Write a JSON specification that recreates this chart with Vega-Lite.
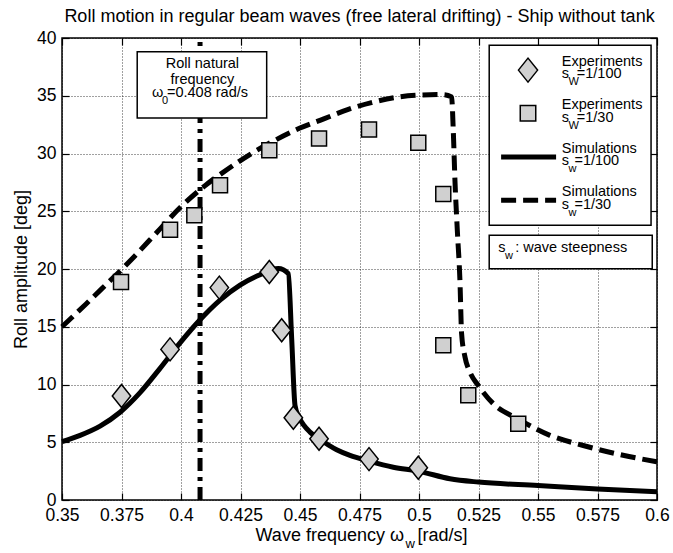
{
  "$schema": "https://vega.github.io/schema/vega-lite/v6.json",
  "width": 595,
  "height": 462,
  "autosize": "none",
  "padding": {"left": 62, "top": 38, "right": 16, "bottom": 53},
  "background": "white",
  "title": {"text": "Roll motion in regular beam waves (free lateral drifting) - Ship without tank", "fontSize": 18, "font": "Liberation Sans", "fontWeight": "normal", "color": "#000", "offset": 3, "anchor": "middle"},
  "config": {"view": {"stroke": "#000", "strokeWidth": 1.5}, "font": "Liberation Sans"},
  "resolve": {"axis": {"x": "independent", "y": "independent"}},
  "layer": [
    {
      "data": {"values": [
        {"x":0.35,"y":5.05},{"x":0.3576,"y":5.6},{"x":0.366,"y":6.4},{"x":0.3744,"y":7.6},{"x":0.3828,"y":9.3},{"x":0.3912,"y":11.4},{"x":0.3996,"y":13.6},{"x":0.408,"y":15.6},{"x":0.4164,"y":17.3},{"x":0.4248,"y":18.6},{"x":0.4332,"y":19.5},{"x":0.4409,"y":20.05},{"x":0.4451,"y":19.6},{"x":0.4465,"y":14.0},{"x":0.4479,"y":8.2},{"x":0.4495,"y":7.2},{"x":0.4515,"y":6.5},{"x":0.4542,"y":5.88},{"x":0.458,"y":5.3},{"x":0.4654,"y":4.35},{"x":0.471,"y":3.86},{"x":0.479,"y":3.37},{"x":0.4892,"y":2.84},{"x":0.4997,"y":2.5},{"x":0.513,"y":1.84},{"x":0.525,"y":1.55},{"x":0.55,"y":1.25},{"x":0.575,"y":0.95},{"x":0.6,"y":0.72}
      ]},
      "mark": {"type": "line", "color": "#000", "strokeWidth": 5, "interpolate": "monotone"},
      "encoding": {
        "x": {"field": "x", "type": "quantitative", "scale": {"domain": [0.35, 0.6], "nice": false, "zero": false},
          "axis": {"orient": "bottom", "values": [0.35,0.375,0.4,0.425,0.45,0.475,0.5,0.525,0.55,0.575,0.6], "labelExpr": "format(datum.value, '.3~f')", "grid": true, "gridColor": "#000", "gridDash": [1,2], "gridWidth": 1, "gridOpacity": 0.75, "domain": false, "ticks": true, "tickSize": -7, "tickColor": "#000", "tickWidth": 1.2, "labelFontSize": 17.5, "labelColor": "#000", "labelFont": "Liberation Sans", "labelPadding": 13, "labelFlush": false, "labelOverlap": false, "title": null}},
        "y": {"field": "y", "type": "quantitative", "scale": {"domain": [0, 40], "nice": false},
          "axis": {"orient": "left", "values": [0,5,10,15,20,25,30,35,40], "grid": true, "gridColor": "#000", "gridDash": [1,2], "gridWidth": 1, "gridOpacity": 0.75, "domain": false, "ticks": true, "tickSize": -7, "tickColor": "#000", "tickWidth": 1.2, "labelFontSize": 17.5, "labelColor": "#000", "labelFont": "Liberation Sans", "labelPadding": 13, "labelFlush": false, "labelOverlap": false, "title": "Roll amplitude [deg]", "titleFontSize": 18, "titleFontWeight": "normal", "titleColor": "#000", "titleFont": "Liberation Sans", "titlePadding": 6}}
      }
    },
    {
      "data": {"values": [
        {"x":0.35,"y":15.0},{"x":0.36,"y":16.95},{"x":0.37,"y":18.95},{"x":0.375,"y":19.95},{"x":0.38,"y":21.0},{"x":0.39,"y":23.2},{"x":0.4,"y":25.4},{"x":0.41,"y":27.2},{"x":0.42,"y":28.7},{"x":0.43,"y":30.05},{"x":0.44,"y":31.2},{"x":0.45,"y":32.2},{"x":0.46,"y":33.0},{"x":0.47,"y":33.8},{"x":0.48,"y":34.4},{"x":0.49,"y":34.85},{"x":0.5,"y":35.05},{"x":0.51,"y":35.1},{"x":0.5137,"y":34.9},{"x":0.5144,"y":32.0},{"x":0.5151,"y":27.7},{"x":0.5161,"y":23.35},{"x":0.5172,"y":19.0},{"x":0.5179,"y":14.4},{"x":0.5193,"y":12.4},{"x":0.5214,"y":11.07},{"x":0.5249,"y":9.92},{"x":0.5312,"y":8.34},{"x":0.5417,"y":7.0},{"x":0.555,"y":5.6},{"x":0.569,"y":4.72},{"x":0.583,"y":4.0},{"x":0.6,"y":3.3}
      ]},
      "mark": {"type": "line", "color": "#000", "strokeWidth": 5, "strokeDash": [15, 7], "interpolate": "monotone"},
      "encoding": {
        "x": {"field": "x", "type": "quantitative", "scale": {"domain": [0.35, 0.6], "nice": false, "zero": false},
          "axis": {"orient": "top", "values": [0.35,0.375,0.4,0.425,0.45,0.475,0.5,0.525,0.55,0.575,0.6], "grid": false, "domain": false, "labels": false, "ticks": true, "tickSize": -7, "tickColor": "#000", "tickWidth": 1.2, "title": null}},
        "y": {"field": "y", "type": "quantitative", "scale": {"domain": [0, 40], "nice": false},
          "axis": {"orient": "right", "values": [0,5,10,15,20,25,30,35,40], "grid": false, "domain": false, "labels": false, "ticks": true, "tickSize": -7, "tickColor": "#000", "tickWidth": 1.2, "title": null}}
      }
    },
    {
      "data": {"values": [{"x": 0.408, "y": 0, "y2": 40}]},
      "mark": {"type": "rule", "color": "#000", "strokeWidth": 5, "strokeDash": [13, 6, 4, 6]},
      "encoding": {
        "x": {"field": "x", "type": "quantitative", "scale": {"domain": [0.35, 0.6], "nice": false, "zero": false}, "axis": null},
        "y": {"field": "y", "type": "quantitative", "scale": {"domain": [0, 40], "nice": false}, "axis": null},
        "y2": {"field": "y2"}
      }
    },
    {
      "data": {"values": [
        {"x":0.375,"y":9.0},{"x":0.3954,"y":13.04},{"x":0.4161,"y":18.39},{"x":0.4371,"y":19.74},{"x":0.4423,"y":14.69},{"x":0.4472,"y":7.12},{"x":0.458,"y":5.3},{"x":0.479,"y":3.54},{"x":0.4997,"y":2.79}
      ]},
      "mark": {"type": "point", "shape": "M-0.8,0L0,-1L0.8,0L0,1Z", "size": 530, "filled": true, "fill": "#d0d0d0", "stroke": "#000", "strokeWidth": 1.5, "opacity": 1},
      "encoding": {
        "x": {"field": "x", "type": "quantitative", "scale": {"domain": [0.35, 0.6], "nice": false, "zero": false}, "axis": null},
        "y": {"field": "y", "type": "quantitative", "scale": {"domain": [0, 40], "nice": false}, "axis": null}
      }
    },
    {
      "data": {"values": [
        {"x":0.3748,"y":18.87},{"x":0.3954,"y":23.4},{"x":0.4056,"y":24.65},{"x":0.4164,"y":27.25},{"x":0.4371,"y":30.29},{"x":0.458,"y":31.3},{"x":0.479,"y":32.08},{"x":0.4997,"y":30.92},{"x":0.5102,"y":26.5},{"x":0.5102,"y":13.4},{"x":0.5207,"y":9.06},{"x":0.5417,"y":6.6}
      ]},
      "mark": {"type": "point", "shape": "square", "size": 225, "filled": true, "fill": "#d0d0d0", "stroke": "#000", "strokeWidth": 1.5, "opacity": 1},
      "encoding": {
        "x": {"field": "x", "type": "quantitative", "scale": {"domain": [0.35, 0.6], "nice": false, "zero": false}, "axis": null},
        "y": {"field": "y", "type": "quantitative", "scale": {"domain": [0, 40], "nice": false}, "axis": null}
      }
    },
    {
      "data": {"values": [
        {"x":0.5295,"x2":0.5975,"y":23.79,"y2":39.38},
        {"x":0.5295,"x2":0.598,"y":20.03,"y2":22.92},
        {"x":0.3816,"x2":0.436,"y":33.08,"y2":38.8}
      ]},
      "mark": {"type": "rect", "fill": "#fff", "stroke": "#000", "strokeWidth": 1.5},
      "encoding": {
        "x": {"field": "x", "type": "quantitative", "scale": {"domain": [0.35, 0.6], "nice": false, "zero": false}, "axis": null},
        "x2": {"field": "x2"},
        "y": {"field": "y", "type": "quantitative", "scale": {"domain": [0, 40], "nice": false}, "axis": null},
        "y2": {"field": "y2"}
      }
    },
    {
      "data": {"values": [{"x":0.5458,"y":37.22}]},
      "mark": {"type": "point", "shape": "M-0.8,0L0,-1L0.8,0L0,1Z", "size": 576, "filled": true, "fill": "#d0d0d0", "stroke": "#000", "strokeWidth": 1.5, "opacity": 1},
      "encoding": {
        "x": {"field": "x", "type": "quantitative", "scale": {"domain": [0.35, 0.6], "nice": false, "zero": false}, "axis": null},
        "y": {"field": "y", "type": "quantitative", "scale": {"domain": [0, 40], "nice": false}, "axis": null}
      }
    },
    {
      "data": {"values": [{"x":0.5458,"y":33.49}]},
      "mark": {"type": "point", "shape": "square", "size": 240, "filled": true, "fill": "#d0d0d0", "stroke": "#000", "strokeWidth": 1.5, "opacity": 1},
      "encoding": {
        "x": {"field": "x", "type": "quantitative", "scale": {"domain": [0.35, 0.6], "nice": false, "zero": false}, "axis": null},
        "y": {"field": "y", "type": "quantitative", "scale": {"domain": [0, 40], "nice": false}, "axis": null}
      }
    },
    {
      "data": {"values": [{"x":0.5345,"x2":0.5576,"y":29.7}]},
      "mark": {"type": "rule", "color": "#000", "strokeWidth": 5},
      "encoding": {
        "x": {"field": "x", "type": "quantitative", "scale": {"domain": [0.35, 0.6], "nice": false, "zero": false}, "axis": null},
        "x2": {"field": "x2"},
        "y": {"field": "y", "type": "quantitative", "scale": {"domain": [0, 40], "nice": false}, "axis": null}
      }
    },
    {
      "data": {"values": [{"x":0.5345,"x2":0.5576,"y":25.95}]},
      "mark": {"type": "rule", "color": "#000", "strokeWidth": 5, "strokeDash": [15, 7]},
      "encoding": {
        "x": {"field": "x", "type": "quantitative", "scale": {"domain": [0.35, 0.6], "nice": false, "zero": false}, "axis": null},
        "x2": {"field": "x2"},
        "y": {"field": "y", "type": "quantitative", "scale": {"domain": [0, 40], "nice": false}, "axis": null}
      }
    },
    {
      "data": {"values": [
        {"x":0.56,"y":37.56,"t":"Experiments"},
        {"x":0.56,"y":36.5,"t":"s"},
        {"x":0.5663,"y":36.5,"t":"=1/100"},
        {"x":0.56,"y":33.81,"t":"Experiments"},
        {"x":0.56,"y":32.74,"t":"s"},
        {"x":0.5663,"y":32.74,"t":"=1/30"},
        {"x":0.56,"y":30.05,"t":"Simulations"},
        {"x":0.56,"y":28.99,"t":"s"},
        {"x":0.5653,"y":28.99,"t":"=1/100"},
        {"x":0.56,"y":26.3,"t":"Simulations"},
        {"x":0.56,"y":25.23,"t":"s"},
        {"x":0.5653,"y":25.23,"t":"=1/30"},
        {"x":0.5333,"y":21.47,"t":"s"},
        {"x":0.5404,"y":21.47,"t":": wave steepness"},
        {"x":0.3878,"y":34.9,"t":"ω"},
        {"x":0.3941,"y":34.9,"t":"=0.408 rad/s"}
      ]},
      "mark": {"type": "text", "align": "left", "baseline": "alphabetic", "fontSize": 14.5, "font": "Liberation Sans", "color": "#000"},
      "encoding": {
        "x": {"field": "x", "type": "quantitative", "scale": {"domain": [0.35, 0.6], "nice": false, "zero": false}, "axis": null},
        "y": {"field": "y", "type": "quantitative", "scale": {"domain": [0, 40], "nice": false}, "axis": null},
        "text": {"field": "t"}
      }
    },
    {
      "data": {"values": [
        {"x":0.5628,"y":36.5,"t":"W"},
        {"x":0.5628,"y":32.74,"t":"W"},
        {"x":0.5628,"y":28.99,"t":"w"},
        {"x":0.5628,"y":25.23,"t":"w"},
        {"x":0.5361,"y":21.47,"t":"w"},
        {"x":0.392,"y":34.9,"t":"0"}
      ]},
      "mark": {"type": "text", "align": "left", "baseline": "alphabetic", "fontSize": 11, "font": "Liberation Sans", "color": "#000", "dy": 7},
      "encoding": {
        "x": {"field": "x", "type": "quantitative", "scale": {"domain": [0.35, 0.6], "nice": false, "zero": false}, "axis": null},
        "y": {"field": "y", "type": "quantitative", "scale": {"domain": [0, 40], "nice": false}, "axis": null},
        "text": {"field": "t"}
      }
    },
    {
      "data": {"values": [
        {"x":0.409,"y":37.42,"t":"Roll natural"},
        {"x":0.409,"y":35.98,"t":"frequency"}
      ]},
      "mark": {"type": "text", "align": "center", "baseline": "alphabetic", "fontSize": 14.5, "font": "Liberation Sans", "color": "#000"},
      "encoding": {
        "x": {"field": "x", "type": "quantitative", "scale": {"domain": [0.35, 0.6], "nice": false, "zero": false}, "axis": null},
        "y": {"field": "y", "type": "quantitative", "scale": {"domain": [0, 40], "nice": false}, "axis": null},
        "text": {"field": "t"}
      }
    },
    {
      "data": {"values": [{"x":0.4937,"y":-3.55,"t":"Wave frequency ω"}]},
      "mark": {"type": "text", "align": "right", "baseline": "alphabetic", "fontSize": 18, "font": "Liberation Sans", "color": "#000"},
      "encoding": {
        "x": {"field": "x", "type": "quantitative", "scale": {"domain": [0.35, 0.6], "nice": false, "zero": false}, "axis": null},
        "y": {"field": "y", "type": "quantitative", "scale": {"domain": [0, 40], "nice": false}, "axis": null},
        "text": {"field": "t"}
      }
    },
    {
      "data": {"values": [{"x":0.4943,"y":-3.55,"t":"w"}]},
      "mark": {"type": "text", "align": "left", "baseline": "alphabetic", "fontSize": 13, "font": "Liberation Sans", "color": "#000", "dy": 7},
      "encoding": {
        "x": {"field": "x", "type": "quantitative", "scale": {"domain": [0.35, 0.6], "nice": false, "zero": false}, "axis": null},
        "y": {"field": "y", "type": "quantitative", "scale": {"domain": [0, 40], "nice": false}, "axis": null},
        "text": {"field": "t"}
      }
    },
    {
      "data": {"values": [{"x":0.4994,"y":-3.55,"t":"[rad/s]"}]},
      "mark": {"type": "text", "align": "left", "baseline": "alphabetic", "fontSize": 18, "font": "Liberation Sans", "color": "#000"},
      "encoding": {
        "x": {"field": "x", "type": "quantitative", "scale": {"domain": [0.35, 0.6], "nice": false, "zero": false}, "axis": null},
        "y": {"field": "y", "type": "quantitative", "scale": {"domain": [0, 40], "nice": false}, "axis": null},
        "text": {"field": "t"}
      }
    }
  ]
}
